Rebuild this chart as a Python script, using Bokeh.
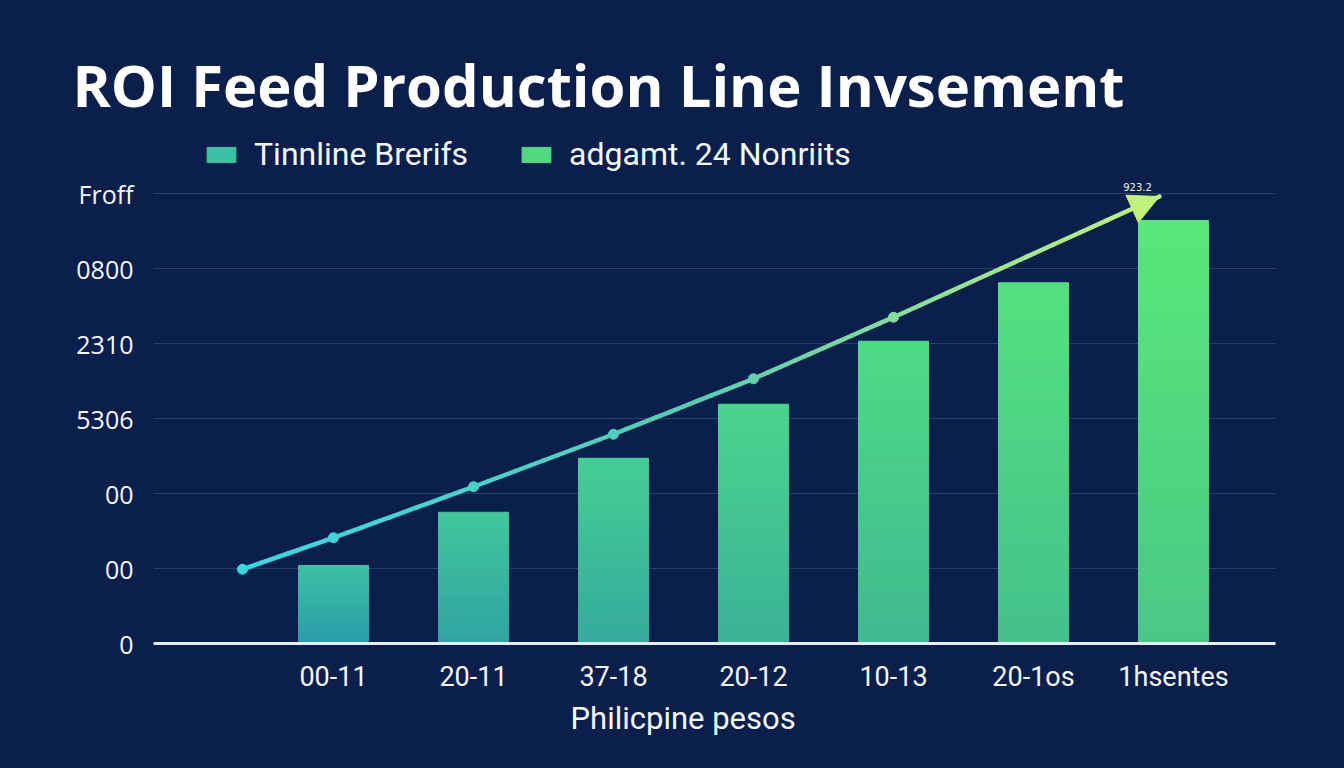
import numpy as np
from bokeh.plotting import figure
from bokeh.models import (ColumnDataSource, Range1d, FixedTicker, Label, Legend,
                          LegendItem, Arrow, NormalHead, Title)
from bokeh.embed import file_html
from bokeh.resources import INLINE

# ---------------- data ----------------
title_text = "ROI Feed Production Line Invsement"
categories = ["00-11", "20-11", "37-18", "20-12", "10-13", "20-1os", "1hsentes"]
bar_values = [1.04, 1.75, 2.47, 3.19, 4.03, 4.81, 5.64]
line_x = [-0.65, 0, 1, 2, 3, 4]
line_values = [0.99, 1.41, 2.09, 2.79, 3.53, 4.35]
arrow_end_x = 5.9
arrow_end_y = 5.96
y_tick_values = [0, 1, 2, 3, 4, 5, 6]
y_tick_labels = ["0", "00", "00", "5306", "2310", "0800", "Froff"]
legend_labels = ["Tinnline Brerifs", "adgamt. 24 Nonriits"]
x_axis_title = "Philicpine pesos"
peak_label = "923.2"

# ---------------- styling ----------------
BG = "#0a1f4b"
TXT = "#f4f7fb"
GRID = "#2a3f6c"

def hexc(c):
    c = np.clip(np.round(c), 0, 255).astype(int)
    return "#%02x%02x%02x" % tuple(c)

def lerp(a, b, t):
    return np.asarray(a, float) + (np.asarray(b, float) - np.asarray(a, float)) * t

p = figure(width=1344, height=768, output_backend="svg", toolbar_location=None,
           x_range=Range1d(-1.2857, 6.7286), y_range=Range1d(0, 6.84),
           min_border_left=153, min_border_right=69, min_border_top=130,
           min_border_bottom=125)
p.background_fill_color = BG
p.border_fill_color = BG
p.outline_line_color = None

# title (above panel)
p.title.text = title_text
p.title.align = "left"
p.title.offset = -81
p.title.standoff = 13
p.title.text_color = "#ffffff"
p.title.text_font = "Open Sans"
p.title.text_font_style = "bold"
p.title.text_font_size = "58px"

# ---------------- bars (vertical gradient slices) ----------------
N = 30
top0, top1 = (60, 194, 162), (88, 232, 120)
bot0, bot1 = (42, 156, 168), (74, 200, 134)
lefts, rights, bottoms, tops, cols = [], [], [], [], []
nb = len(bar_values)
for k, v in enumerate(bar_values):
    t = k / (nb - 1)
    ct = lerp(top0, top1, t)
    cb = lerp(bot0, bot1, t)
    for j in range(N):
        lefts.append(k - 0.25)
        rights.append(k + 0.25)
        bottoms.append(v * j / N)
        tops.append(v * (j + 1) / N)
        cols.append(hexc(lerp(cb, ct, (j + 0.5) / N)))
bar_src = ColumnDataSource(dict(left=lefts, right=rights, bottom=bottoms, top=tops, color=cols))
bars_r = p.quad(left="left", right="right", bottom="bottom", top="top", source=bar_src,
                fill_color="color", line_color="color", line_width=1)

# ---------------- trend line (gradient segments) ----------------
stops = [(0.0, (56, 216, 226)), (0.5, (88, 206, 178)), (1.0, (192, 243, 122))]

def ramp(f):
    for (f0, c0), (f1, c1) in zip(stops[:-1], stops[1:]):
        if f <= f1:
            return lerp(c0, c1, (f - f0) / (f1 - f0))
    return np.asarray(stops[-1][1], float)

px = list(line_x) + [arrow_end_x]
py = list(line_values) + [arrow_end_y]
x0s, y0s, x1s, y1s, scol = [], [], [], [], []
xmin, xmax = px[0], px[-1]
M = 10
for a in range(len(px) - 1):
    for m in range(M):
        ta, tb = m / M, (m + 1) / M
        xa = px[a] + (px[a + 1] - px[a]) * ta
        xb = px[a] + (px[a + 1] - px[a]) * tb
        ya = py[a] + (py[a + 1] - py[a]) * ta
        yb = py[a] + (py[a + 1] - py[a]) * tb
        x0s.append(xa); y0s.append(ya); x1s.append(xb); y1s.append(yb)
        scol.append(hexc(ramp(((xa + xb) / 2 - xmin) / (xmax - xmin))))
seg_src = ColumnDataSource(dict(x0=x0s, y0=y0s, x1=x1s, y1=y1s, color=scol))
p.segment(x0="x0", y0="y0", x1="x1", y1="y1", source=seg_src, line_color="color",
          line_width=4.5, line_cap="round")

mcol = [hexc(ramp((x - xmin) / (xmax - xmin))) for x in line_x]
p.scatter(x=line_x, y=line_values, size=10, fill_color=mcol, line_color=mcol)

head_col = hexc(ramp(1.0))
p.add_layout(Arrow(end=NormalHead(size=30, fill_color=head_col, line_color=head_col),
                   x_start=line_x[-1], y_start=line_values[-1],
                   x_end=arrow_end_x, y_end=arrow_end_y, line_alpha=0))

p.add_layout(Label(x=5.743, y=6.04, text=peak_label, text_align="center",
                   text_baseline="bottom", text_color=TXT, text_font_size="10px",
                   text_font="DejaVu Sans"))

# ---------------- axes ----------------
p.xaxis.ticker = FixedTicker(ticks=list(range(len(categories))))
p.xaxis.major_label_overrides = {i: c for i, c in enumerate(categories)}
p.xaxis.axis_line_color = "#e8edf5"
p.xaxis.axis_line_width = 3
p.xaxis.major_tick_line_color = None
p.xaxis.minor_tick_line_color = None
p.xaxis.major_label_text_color = TXT
p.xaxis.major_label_text_font = "Roboto"
p.xaxis.major_label_text_font_size = "27px"
p.xaxis.major_label_standoff = 11

p.yaxis.ticker = FixedTicker(ticks=y_tick_values)
p.yaxis.major_label_overrides = {v: l for v, l in zip(y_tick_values, y_tick_labels)}
p.yaxis.axis_line_color = None
p.yaxis.major_tick_line_color = None
p.yaxis.minor_tick_line_color = None
p.yaxis.major_label_text_color = TXT
p.yaxis.major_label_text_font = "Open Sans"
p.yaxis.major_label_text_font_size = "25px"
p.yaxis.major_label_standoff = 14

p.xgrid.grid_line_color = None
p.ygrid.grid_line_color = GRID
p.ygrid.grid_line_width = 1

# x-axis title (below panel)
p.add_layout(Title(text=x_axis_title, align="left", offset=417, standoff=5,
                   text_color=TXT, text_font="Roboto", text_font_style="normal",
                   text_font_size="31px"), "below")

legend = Legend(items=[LegendItem(label=legend_labels[0], renderers=[bars_r], index=N - 1),
                       LegendItem(label=legend_labels[1], renderers=[bars_r], index=6 * N + N // 2)],
                orientation="horizontal", location=(50, 470),
                background_fill_alpha=0, border_line_alpha=0,
                glyph_width=36, glyph_height=19, label_standoff=15, spacing=50,
                padding=0, margin=0,
                label_text_font="Roboto", label_text_font_size="32px", label_text_color=TXT)
p.add_layout(legend)

html = file_html(p, INLINE)
html = html.replace("</head>", "<style>html,body{margin:0;background:%s;}</style></head>" % BG, 1)
open("out.html", "w").write(html)
